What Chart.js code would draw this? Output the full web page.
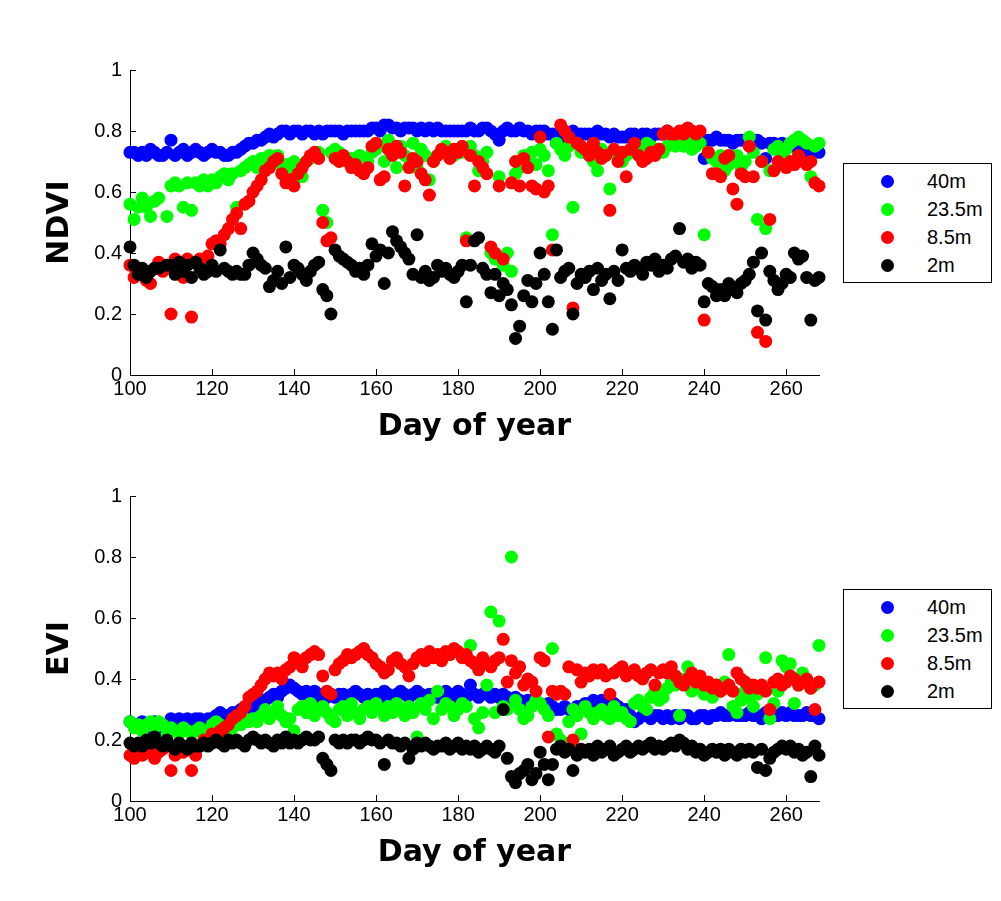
<!DOCTYPE html>
<html><head><meta charset="utf-8">
<script src="https://cdn.jsdelivr.net/npm/chart.js@4.4.0/dist/chart.umd.min.js"></script>
<style>
body{margin:0;background:#fff;width:1001px;height:901px;position:relative;overflow:hidden;font-family:"Liberation Sans",Arial,sans-serif;}
canvas{position:absolute;left:0;}
.legend{position:absolute;left:843px;width:149px;height:120px;border:1px solid #000;background:#fff;box-sizing:border-box;}
.mk{position:absolute;left:37px;width:13px;height:13px;border-radius:50%;}
.lt{position:absolute;left:83px;font-size:20px;line-height:20px;color:#000;white-space:nowrap;}
</style></head>
<body>
<canvas id="c1" width="1001" height="450" style="top:0;width:1001px;height:450px"></canvas>
<canvas id="c2" width="1001" height="451" style="top:450px;width:1001px;height:451px"></canvas>
<div class="legend" id="leg1" style="top:163px"></div>
<div class="legend" id="leg2" style="top:589px"></div>
<script>
const days = [
100,101,102,103,104,105,106,107,108,109,
110,111,112,113,114,115,116,117,118,119,
120,121,122,123,124,125,126,127,128,129,
130,131,132,133,134,135,136,137,138,139,
140,141,142,143,144,145,146,147,148,149,
150,151,152,153,154,155,156,157,158,159,
160,161,162,163,164,165,166,167,168,169,
170,171,172,173,174,175,176,177,178,179,
180,181,182,183,184,185,186,187,188,189,
190,191,192,193,194,195,196,197,198,199,
200,201,202,203,204,205,206,207,208,209,
210,211,212,213,214,215,216,217,218,219,
220,221,222,223,224,225,226,227,228,229,
230,231,232,233,234,235,236,237,238,239,
240,241,242,243,244,245,246,247,248,249,
250,251,252,253,254,255,256,257,258,259,
260,261,262,263,264,265,266,267,268];

const seriesNames = ['40m','23.5m','8.5m','2m'];
const seriesColors = ['#0000ff','#00ff00','#ff0000','#000000'];
const xTicks = [100,120,140,160,180,200,220,240,260];
const yTicks = [0,0.2,0.4,0.6,0.8,1];

const ndvi40 = [
0.73,0.73,0.72,0.73,0.72,0.74,0.73,0.72,0.72,0.73,
0.77,0.72,0.73,0.74,0.72,0.73,0.74,0.73,0.72,0.73,
0.74,0.73,0.73,0.72,0.72,0.73,0.73,0.74,0.75,0.76,
0.76,0.77,0.77,0.78,0.79,0.78,0.79,0.80,0.80,0.79,
0.80,0.80,0.79,0.80,0.80,0.79,0.80,0.79,0.80,0.80,
0.80,0.80,0.79,0.80,0.80,0.80,0.80,0.80,0.80,0.81,
0.81,0.80,0.82,0.82,0.81,0.81,0.80,0.81,0.81,0.81,
0.80,0.81,0.80,0.81,0.80,0.81,0.80,0.80,0.80,0.80,
0.80,0.80,0.80,0.81,0.80,0.80,0.81,0.81,0.80,0.79,
0.77,0.80,0.81,0.80,0.80,0.81,0.80,0.80,0.79,0.80,
0.80,0.80,0.79,0.79,0.76,0.78,0.79,0.79,0.80,0.79,
0.79,0.79,0.79,0.79,0.80,0.79,0.79,0.78,0.79,0.78,
0.78,0.78,0.79,0.79,0.78,0.79,0.79,0.78,0.79,0.79,
0.79,0.80,0.79,0.79,0.79,0.80,0.80,0.79,0.79,0.78,
0.71,0.77,0.77,0.78,0.77,0.77,0.77,0.76,0.77,0.77,
0.77,0.76,0.77,0.77,0.76,0.71,0.76,0.76,0.75,0.76,
0.75,0.75,0.75,0.74,0.75,0.74,0.73,0.74,0.73];

const ndvi235 = [
0.56,0.51,0.55,0.58,0.55,0.52,0.57,0.58,null,0.52,
0.62,0.63,0.62,0.55,0.63,0.54,0.63,0.62,0.64,0.62,
0.64,0.63,0.65,0.66,0.64,0.66,0.55,0.67,0.68,0.69,
0.70,0.68,0.71,0.71,0.72,0.70,0.72,0.68,0.69,0.67,
0.70,0.68,0.65,0.70,0.71,0.72,0.73,0.54,0.50,0.73,
0.74,0.73,0.72,0.70,0.71,0.70,0.72,0.69,0.70,0.73,
0.74,0.75,0.70,0.77,0.74,0.68,0.75,0.72,0.71,0.76,
0.68,0.74,0.72,0.64,0.70,0.72,0.74,0.75,0.73,0.72,
0.74,0.73,0.45,0.75,0.72,0.67,0.70,0.73,0.40,0.38,
0.65,0.36,0.40,0.34,0.66,0.68,0.72,0.70,0.73,0.69,
0.74,0.72,0.67,0.46,0.76,0.74,0.72,0.75,0.55,0.76,
0.73,0.74,0.72,0.70,0.67,0.74,0.72,0.61,0.73,0.72,
0.70,0.72,0.73,0.75,0.74,0.72,0.76,0.75,0.73,0.74,
0.73,0.75,0.76,0.75,0.76,0.75,0.76,0.74,0.75,0.76,
0.46,0.73,0.71,0.70,0.72,0.67,0.69,0.70,0.72,0.68,
0.70,0.78,0.73,0.51,0.70,0.48,0.67,0.74,0.75,0.72,
0.74,0.76,0.77,0.78,0.77,0.76,0.65,0.75,0.76];

const ndvi85 = [
0.36,0.32,0.34,0.33,0.31,0.30,0.35,0.37,0.34,0.36,
0.20,0.38,0.37,0.32,0.38,0.19,0.37,0.38,0.36,0.39,
0.43,0.44,0.43,0.46,0.48,0.51,0.53,0.48,0.56,0.57,
0.60,0.62,0.64,0.67,0.68,0.70,0.71,0.66,0.63,0.64,
0.62,0.66,0.68,0.70,0.72,0.73,0.71,0.50,0.44,0.45,
0.71,0.70,0.72,0.70,0.68,0.69,0.67,0.66,0.68,0.75,
0.76,0.64,0.65,0.74,0.72,0.75,0.73,0.62,0.68,0.71,
0.70,0.66,0.64,0.59,0.70,0.72,0.74,0.73,0.71,0.74,
0.73,0.75,0.44,0.72,0.62,0.70,0.68,0.66,0.42,0.40,
0.62,0.38,null,0.63,0.70,0.62,0.71,0.68,0.62,0.61,
0.78,0.60,0.62,0.41,null,0.82,0.80,0.78,0.22,0.76,
0.75,0.74,0.72,0.76,0.73,0.71,0.72,0.54,0.74,0.70,
0.73,0.65,0.74,0.76,0.72,0.70,0.71,0.73,0.72,0.74,
0.79,0.80,0.79,0.79,0.80,0.79,0.81,0.80,0.79,0.80,
0.18,0.73,0.66,0.66,0.65,0.71,0.72,0.61,0.56,0.66,
0.65,0.75,0.65,0.14,0.70,0.11,0.51,0.67,0.70,0.69,
0.68,0.70,0.69,0.72,0.70,0.69,0.70,0.63,0.62];

const ndvi2 = [
0.42,0.36,0.33,0.35,0.32,0.34,0.35,0.35,null,0.36,
0.36,0.33,0.37,0.34,0.36,0.32,0.37,0.35,0.33,0.34,
0.36,0.34,0.41,0.35,0.34,0.33,0.34,0.33,0.33,0.36,
0.40,0.38,0.36,0.35,0.29,0.31,0.34,0.30,0.42,0.32,
0.36,0.35,0.33,0.31,0.34,0.36,0.37,0.28,0.26,0.20,
0.41,0.39,0.38,0.37,0.36,0.34,0.35,0.33,0.36,0.43,
0.39,0.41,0.30,0.40,0.47,0.44,0.42,0.40,0.38,0.33,
0.46,0.32,0.34,0.31,0.32,0.36,0.34,0.35,0.33,0.32,
0.34,0.36,0.24,0.36,0.44,0.45,0.35,0.33,0.27,0.33,
0.26,0.30,0.28,0.23,0.12,0.16,0.26,0.31,0.24,0.30,
0.40,0.33,0.24,0.15,0.41,0.32,0.34,0.35,0.20,0.30,
0.33,0.32,0.34,0.28,0.35,0.31,0.33,0.25,0.34,0.31,
0.41,0.35,0.34,0.36,0.35,0.33,0.37,0.36,0.38,0.34,
0.36,0.35,0.38,0.39,0.48,0.37,0.38,0.35,0.37,0.36,
0.24,0.30,0.29,0.26,0.28,0.26,0.30,0.28,0.27,0.30,
0.31,0.33,0.37,0.21,0.40,0.18,0.34,0.31,0.28,0.30,
0.33,0.32,0.40,0.38,0.39,0.32,0.18,0.31,0.32];

const evi40 = [
0.26,0.25,0.25,0.26,0.24,0.25,0.26,0.25,0.22,0.25,
0.27,0.26,0.27,0.26,0.27,0.26,0.27,0.27,0.26,0.27,
0.27,0.28,0.29,0.28,0.28,0.29,0.29,0.30,0.30,0.31,
0.31,0.32,0.33,0.33,0.34,0.35,0.34,0.36,0.37,0.38,
0.37,0.36,0.35,0.36,0.35,0.36,0.34,0.35,0.34,0.35,
0.34,0.35,0.35,0.34,0.35,0.36,0.35,0.34,0.35,0.34,
0.35,0.34,0.36,0.35,0.34,0.35,0.36,0.35,0.34,0.35,
0.36,0.35,0.34,0.35,0.35,0.34,0.35,0.36,0.35,0.34,
0.36,0.35,0.34,0.38,0.35,0.34,0.35,0.36,0.34,0.35,
0.34,0.35,0.34,0.33,0.34,0.33,0.32,0.33,0.32,0.33,
0.32,0.31,0.32,0.31,0.30,0.30,0.31,0.30,0.29,0.31,
0.31,0.32,0.32,0.33,0.32,0.33,0.32,0.33,0.32,0.31,
0.30,0.30,0.28,0.26,0.27,0.28,0.28,0.27,0.28,0.28,
0.27,0.28,0.27,0.28,0.27,0.28,0.28,0.27,0.27,0.28,
0.28,0.27,0.28,0.28,0.29,0.28,0.28,0.29,0.28,0.28,
0.28,0.29,0.28,0.28,0.27,0.29,0.28,0.28,0.28,0.29,
0.28,0.29,0.28,0.28,0.28,0.29,0.28,0.28,0.27];

const evi235 = [
0.26,0.24,0.25,0.23,0.25,0.26,0.24,0.26,0.25,0.22,
0.24,0.23,0.22,0.24,0.23,0.22,0.23,0.24,0.22,0.23,
0.25,0.26,0.25,0.24,0.23,0.24,0.26,0.25,0.27,0.26,
0.27,0.26,0.28,0.30,0.27,0.29,0.31,0.28,0.26,0.27,
0.23,0.30,0.31,0.29,0.32,0.28,0.30,0.31,0.29,0.27,
0.26,0.30,0.31,0.28,0.32,0.29,0.27,0.30,0.31,0.29,
0.32,0.30,0.28,0.31,0.29,0.32,0.30,0.28,0.31,0.29,
0.21,0.32,0.30,0.33,0.27,0.36,0.30,0.32,0.31,0.28,
0.30,0.32,0.31,0.51,0.27,0.24,0.29,0.38,0.62,0.29,
0.59,0.31,0.30,0.80,0.33,0.30,0.27,0.28,0.31,0.33,
0.32,0.30,0.28,0.50,0.22,0.20,0.19,0.26,0.30,0.28,
0.22,0.31,0.29,0.27,0.29,0.30,0.28,0.27,0.31,0.28,
0.29,0.27,0.26,0.32,0.33,0.31,0.30,0.34,0.36,0.33,
0.34,0.37,0.39,0.38,0.28,0.40,0.44,0.36,0.41,0.38,
0.35,0.37,0.34,0.38,0.36,0.39,0.48,0.31,0.29,0.33,
0.36,0.34,0.31,0.35,0.37,0.47,0.27,0.32,0.36,0.46,
0.44,0.45,0.32,0.38,0.42,0.40,0.37,0.38,0.51];

const evi85 = [
0.15,0.14,0.16,0.15,0.17,0.16,0.14,0.16,0.17,0.18,
0.10,0.15,0.18,0.16,0.17,0.10,0.15,0.18,0.20,0.20,
0.22,0.22,0.23,0.24,0.25,0.27,0.28,0.29,0.31,0.34,
0.35,0.36,0.38,0.40,0.42,0.41,0.42,0.40,0.43,0.44,
0.47,0.46,0.44,0.47,0.48,0.49,0.48,0.41,0.36,0.35,
0.43,0.45,0.46,0.48,0.47,0.48,0.49,0.50,0.48,0.47,
0.45,0.44,0.42,0.43,0.46,0.47,0.45,0.44,0.41,0.45,
0.47,0.48,0.46,0.49,0.47,0.48,0.46,0.49,0.48,0.50,
0.49,0.47,0.48,0.46,0.45,0.43,0.47,0.45,0.44,0.46,
0.47,0.53,0.39,0.46,0.42,0.44,0.38,0.40,0.39,0.36,
0.47,0.46,0.21,0.36,0.35,0.36,0.35,0.44,0.20,0.43,
0.39,0.42,0.41,0.43,0.42,0.43,0.41,0.35,0.42,0.43,
0.44,0.41,0.42,0.43,0.41,0.40,0.42,0.43,0.38,0.42,
0.43,0.42,0.44,0.41,0.39,0.38,0.40,0.42,0.39,0.41,
0.38,0.39,0.37,0.38,0.36,0.37,0.38,0.36,0.42,0.40,
0.39,0.37,0.38,0.37,0.38,0.36,0.30,0.39,0.40,0.38,
0.39,0.41,0.40,0.38,0.39,0.40,0.37,0.30,0.39];

const evi2 = [
0.19,0.18,0.19,0.18,0.20,0.19,0.21,0.19,0.18,0.20,
0.18,0.17,0.19,0.18,0.17,0.19,0.18,0.18,0.19,0.18,
0.19,0.20,0.19,0.18,0.20,0.19,0.20,0.19,0.18,0.20,
0.21,0.20,0.19,0.20,0.19,0.18,0.20,0.19,0.21,0.19,
0.20,0.19,0.20,0.21,0.20,0.20,0.21,0.14,0.12,0.10,
0.20,0.19,0.20,0.19,0.20,0.20,0.19,0.20,0.21,0.20,
0.20,0.19,0.12,0.20,0.19,0.19,0.18,0.19,0.14,0.17,
0.19,0.18,0.19,0.18,0.17,0.18,0.18,0.19,0.17,0.18,
0.19,0.17,0.18,0.17,0.18,0.16,0.17,0.18,0.17,0.16,
0.18,0.30,0.14,0.08,0.06,0.09,0.10,0.12,0.07,0.09,
0.16,0.12,0.07,0.12,0.17,0.18,0.16,0.17,0.10,0.15,
0.17,0.16,0.17,0.15,0.18,0.16,0.17,0.18,0.15,0.16,
0.17,0.18,0.16,0.17,0.18,0.17,0.18,0.19,0.17,0.18,
0.17,0.18,0.19,0.18,0.20,0.19,0.17,0.18,0.16,0.17,
0.15,0.16,0.17,0.16,0.17,0.15,0.17,0.16,0.15,0.17,
0.16,0.17,0.16,0.11,0.17,0.10,0.14,0.16,0.17,0.18,
0.17,0.18,0.16,0.17,0.15,0.16,0.08,0.18,0.15];

function pts(vals){
  const out = [];
  vals.forEach((v,i)=>{ if(v!==null) out.push({x:days[i], y:v}); });
  return out;
}

const innerTicks = {
  id:'innerTicks',
  afterDatasetsDraw(chart){
    const {ctx, chartArea:a, scales} = chart;
    const x = scales.x, y = scales.y;
    ctx.save();
    ctx.strokeStyle = '#000';
    ctx.lineWidth = 1;
    ctx.beginPath();
    xTicks.forEach(t=>{ const px = Math.round(x.getPixelForValue(t))+0.5; ctx.moveTo(px,a.bottom); ctx.lineTo(px,a.bottom-6); });
    yTicks.forEach(t=>{ const py = Math.round(y.getPixelForValue(t))+0.5; ctx.moveTo(a.left,py); ctx.lineTo(a.left+6,py); });
    ctx.stroke();
    ctx.restore();
  }
};

const tickFont = {family:'"Liberation Sans", Arial, sans-serif', size:20};
const titleFont = {family:'"DejaVu Sans", sans-serif', size:30, weight:'bold', lineHeight:1.2};

function makeChart(id, series, yTitle, padTop, xHeight, xTitlePad){
  return new Chart(document.getElementById(id), {
    type:'scatter',
    data:{datasets: series.map((vals,i)=>({
      label: seriesNames[i], data: pts(vals),
      backgroundColor: seriesColors[i], borderColor: seriesColors[i], borderWidth:0,
      pointRadius:6.5, pointHoverRadius:6.5, order:4-i, clip:false
    }))},
    options:{
      responsive:false, animation:false, devicePixelRatio:1, events:[],
      layout:{padding:{left:0, top:padTop, right:182, bottom:0}},
      plugins:{legend:{display:false}, tooltip:{enabled:false}},
      scales:{
        x:{type:'linear', min:100, max:268,
          afterFit(s){ s.height = xHeight; },
          afterBuildTicks(s){ s.ticks = xTicks.map(v=>({value:v})); },
          grid:{drawOnChartArea:false, drawTicks:false},
          border:{display:true, color:'#000', width:1},
          ticks:{color:'#000', font:tickFont, padding:2, maxRotation:0, autoSkip:false, includeBounds:false},
          title:{display:true, text:'Day of year', color:'#000', font:titleFont, padding:{top:0, bottom:xTitlePad}}
        },
        y:{type:'linear', min:0, max:1,
          afterFit(s){ s.width = 130; },
          afterBuildTicks(s){ s.ticks = yTicks.map(v=>({value:v})); },
          grid:{drawOnChartArea:false, drawTicks:false},
          border:{display:true, color:'#000', width:1},
          ticks:{color:'#000', font:tickFont, padding:8, autoSkip:false, includeBounds:false, callback:(v)=>String(v)},
          title:{display:true, text:yTitle, color:'#000', font:titleFont, padding:{top:42, bottom:0}}
        }
      }
    },
    plugins:[innerTicks]
  });
}

makeChart('c1', [ndvi40, ndvi235, ndvi85, ndvi2], 'NDVI', 70, 75, 5);
makeChart('c2', [evi40, evi235, evi85, evi2], 'EVI', 46, 100, 30);

function buildLegend(id){
  const box = document.getElementById(id);
  const rows = [17, 45, 73, 101];
  seriesNames.forEach((n,i)=>{
    const m = document.createElement('div');
    m.className = 'mk';
    m.style.top = (rows[i]-6.5)+'px';
    m.style.background = seriesColors[i];
    box.appendChild(m);
    const t = document.createElement('div');
    t.className = 'lt';
    t.style.top = (rows[i]-10)+'px';
    t.textContent = n;
    box.appendChild(t);
  });
}
buildLegend('leg1');
buildLegend('leg2');
</script>
</body></html>
